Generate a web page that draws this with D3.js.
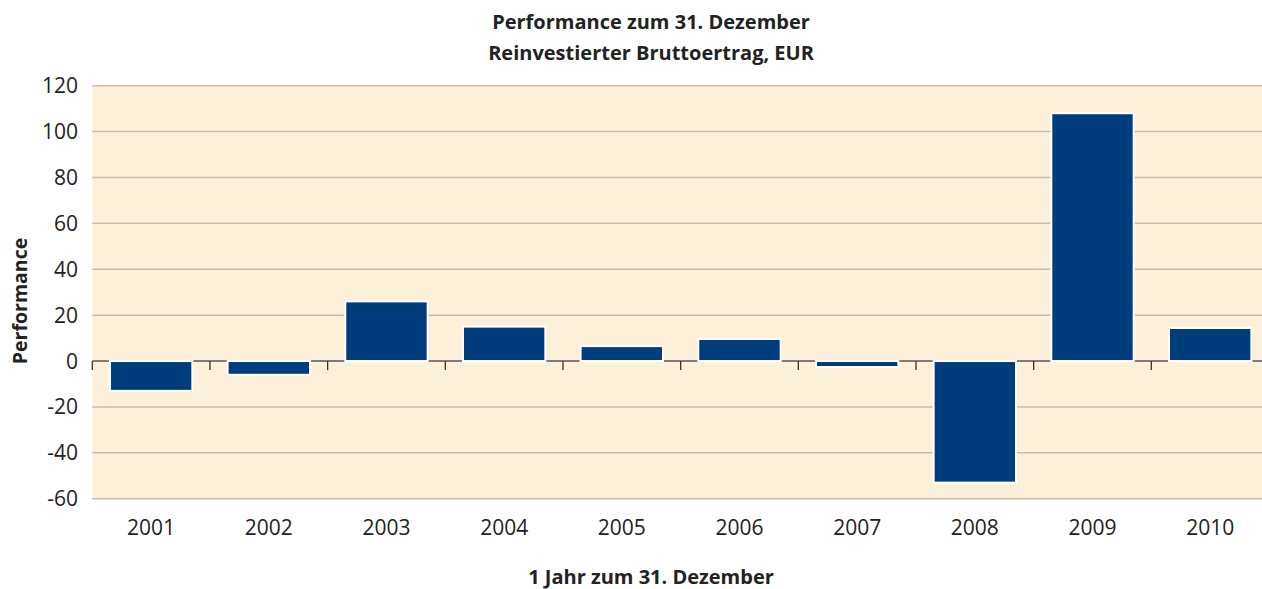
<!DOCTYPE html>
<html><head><meta charset="utf-8">
<script src="https://cdn.jsdelivr.net/npm/d3@7"></script>
<style>body{margin:0;background:#fff}svg{display:block}text{font-family:"Open Sans",sans-serif;fill:#222}</style>
</head><body><svg id="c" width="1262" height="589"></svg>
<script>
const years = ["2001","2002","2003","2004","2005","2006","2007","2008","2009","2010"];
const values = [-13, -6, 26, 15, 6.5, 9.6, -2.6, -53, 108, 14.4];
const yTicks = [-60,-40,-20,0,20,40,60,80,100,120];
const titleLines = ["Performance zum 31. Dezember","Reinvestierter Bruttoertrag, EUR"];
const xTitle = "1 Jahr zum 31. Dezember";
const yTitle = "Performance";

const svg = d3.select("#c");
const L = 92.3, R = 1269, T = 85.7, B = 498.7;
const x = d3.scaleBand().domain(years).range([L, R]).paddingInner(0.3).paddingOuter(0.15);
const y = d3.scaleLinear().domain([-60,120]).range([B, T]);

svg.append("rect").attr("x",L).attr("y",T).attr("width",R-L).attr("height",B-T).attr("fill","#fdf0da");
svg.append("g").selectAll("line").data(yTicks.filter(d=>d!==0)).join("line")
  .attr("x1",L).attr("x2",R).attr("y1",d=>y(d)).attr("y2",d=>y(d))
  .attr("stroke","#c9bcab").attr("stroke-width",1.5);

// zero axis with boundary ticks
const step = x.step();
const bounds = d3.range(years.length+1).map(i => L + i*step);
svg.append("line").attr("x1",L).attr("x2",R).attr("y1",y(0)).attr("y2",y(0)).attr("stroke","#555").attr("stroke-width",1.5);
svg.append("g").selectAll("line").data(bounds).join("line")
  .attr("x1",d=>d).attr("x2",d=>d).attr("y1",y(0)).attr("y2",y(0)+9).attr("stroke","#333").attr("stroke-width",1.3);

svg.append("g").selectAll("rect").data(values).join("rect")
  .attr("x",(d,i)=>x(years[i])).attr("width",x.bandwidth())
  .attr("y",d=>y(Math.max(0,d))).attr("height",d=>Math.abs(y(d)-y(0)))
  .attr("fill","#003d7c").attr("stroke","#fff").attr("stroke-width",2);

// y tick labels
svg.append("g").selectAll("text").data(yTicks).join("text")
  .attr("x",78).attr("y",d=>y(d)).attr("dy","0.36em").attr("text-anchor","end")
  .attr("font-size",21).text(d=>d);
// x tick labels
svg.append("g").selectAll("text").data(years).join("text")
  .attr("x",d=>x(d)+x.bandwidth()/2).attr("y",535).attr("text-anchor","middle")
  .attr("font-size",21).text(d=>d);

svg.append("g").selectAll("text").data(titleLines).join("text")
  .attr("x",651).attr("y",(d,i)=>29+i*31).attr("text-anchor","middle")
  .attr("font-size",20).attr("font-weight","bold").text(d=>d);
svg.append("text").attr("x",651).attr("y",584).attr("text-anchor","middle")
  .attr("font-size",20).attr("font-weight","bold").text(xTitle);
svg.append("text").attr("transform","translate(27,301) rotate(-90)").attr("text-anchor","middle")
  .attr("font-size",19.5).attr("font-weight","bold").text(yTitle);
</script></body></html>
